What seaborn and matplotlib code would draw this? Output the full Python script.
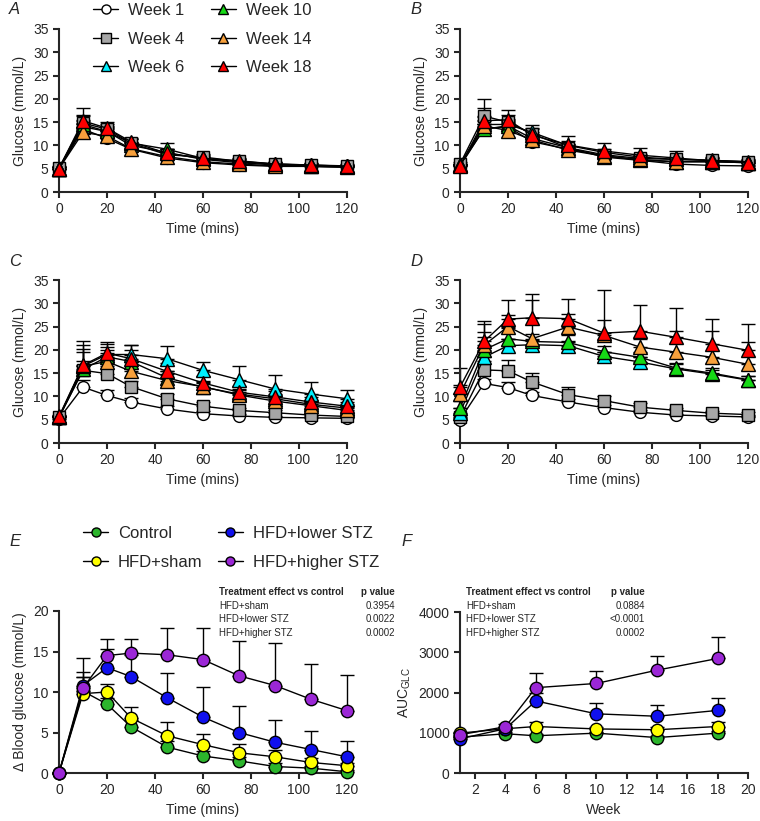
import numpy as np
import seaborn as sns
import matplotlib.pyplot as plt
from matplotlib.lines import Line2D

sns.set_style("ticks")
plt.rcParams["font.family"] = ["Liberation Sans", "DejaVu Sans"]
plt.rcParams["axes.linewidth"] = 1.5
plt.rcParams["xtick.major.width"] = 1.5
plt.rcParams["ytick.major.width"] = 1.5
plt.rcParams["xtick.major.size"] = 4
plt.rcParams["ytick.major.size"] = 4
plt.rcParams["xtick.labelsize"] = 10
plt.rcParams["ytick.labelsize"] = 10
plt.rcParams["axes.labelsize"] = 10

# Data: OGTT time points (mins)
times = [0, 10, 20, 30, 45, 60, 75, 90, 105, 120]
weeks = ["Week 1", "Week 4", "Week 6", "Week 10", "Week 14", "Week 18"]
week_markers = ["o", "s", "^", "^", "^", "^"]
week_colors = ["white", "#a6a6a6", "#00f0ff", "#16d916", "#f7a03c", "#ff0000"]

# Panel A - glucose (mmol/L), one row per week
a_mean = [
    [5.0, 13.5, 11.5, 9.2, 7.3, 6.3, 5.8, 5.5, 5.5, 5.3],
    [5.2, 14.8, 13.5, 10.5, 8.0, 7.5, 6.6, 6.0, 5.8, 5.6],
    [5.0, 14.0, 13.0, 10.0, 8.5, 7.0, 6.3, 5.8, 5.6, 5.5],
    [5.0, 14.5, 13.0, 10.5, 9.2, 7.2, 6.5, 6.0, 5.7, 5.5],
    [5.0, 12.8, 12.0, 9.3, 7.6, 6.5, 6.0, 5.6, 5.5, 5.3],
    [5.0, 15.3, 13.7, 10.8, 8.3, 7.2, 6.7, 6.0, 5.8, 5.5],
]
a_err = [
    [0.3, 1.2, 0.8, 0.6, 0.5, 0.4, 0.3, 0.3, 0.3, 0.3],
    [0.3, 1.8, 1.2, 0.8, 0.7, 0.6, 0.5, 0.4, 0.4, 0.4],
    [0.3, 1.5, 1.0, 0.8, 0.8, 0.6, 0.5, 0.4, 0.4, 0.4],
    [0.3, 1.8, 1.2, 0.8, 1.3, 0.6, 0.5, 0.4, 0.4, 0.4],
    [0.3, 1.2, 1.0, 0.7, 0.6, 0.5, 0.4, 0.3, 0.3, 0.3],
    [0.3, 2.7, 1.3, 0.9, 1.0, 0.7, 0.5, 0.4, 0.4, 0.4],
]

# Panel B
b_mean = [
    [5.5, 13.6, 14.0, 10.8, 9.2, 7.8, 6.8, 6.0, 5.7, 5.6],
    [6.0, 16.3, 15.0, 12.5, 9.5, 8.0, 7.2, 7.0, 6.8, 6.5],
    [5.8, 14.5, 14.5, 12.8, 10.0, 8.5, 7.5, 7.0, 6.8, 6.5],
    [5.8, 13.5, 14.2, 11.5, 9.5, 7.5, 6.8, 6.5, 6.5, 6.3],
    [5.7, 14.2, 13.2, 11.2, 9.0, 7.7, 7.0, 6.5, 6.5, 6.3],
    [5.5, 15.3, 15.5, 12.2, 10.1, 8.8, 7.9, 7.3, 6.7, 6.3],
]
b_err = [
    [0.3, 1.0, 0.8, 0.6, 0.5, 0.4, 0.3, 0.3, 0.3, 0.3],
    [0.4, 3.7, 1.5, 1.0, 0.9, 0.8, 0.6, 0.6, 0.5, 0.5],
    [0.3, 1.5, 1.2, 1.0, 0.9, 0.8, 0.6, 0.5, 0.5, 0.4],
    [0.3, 1.2, 1.0, 0.8, 0.7, 0.6, 0.5, 0.5, 0.4, 0.4],
    [0.3, 1.2, 1.0, 0.8, 0.7, 0.6, 0.5, 0.5, 0.4, 0.4],
    [0.3, 2.8, 2.1, 2.2, 2.0, 1.8, 1.5, 1.6, 0.8, 0.6],
]

# Panel C
c_mean = [
    [5.2, 12.0, 10.2, 8.8, 7.3, 6.3, 5.8, 5.5, 5.4, 5.3],
    [5.5, 15.6, 14.9, 12.1, 9.5, 7.9, 7.0, 6.5, 6.0, 5.7],
    [5.5, 16.5, 19.0, 19.0, 18.1, 15.6, 13.6, 11.6, 10.5, 9.5],
    [5.5, 15.8, 18.5, 17.5, 14.0, 12.0, 10.5, 9.5, 8.3, 7.5],
    [5.5, 16.5, 17.5, 15.4, 13.4, 12.1, 10.3, 9.0, 8.0, 7.0],
    [5.7, 16.7, 19.3, 18.1, 15.4, 12.9, 10.9, 9.9, 8.8, 7.9],
]
c_err = [
    [0.3, 1.5, 1.1, 0.8, 0.6, 0.5, 0.4, 0.3, 0.3, 0.3],
    [0.3, 2.0, 1.7, 1.3, 1.0, 0.8, 0.6, 0.5, 0.4, 0.4],
    [0.4, 5.5, 2.2, 2.1, 2.8, 1.9, 3.0, 2.9, 2.7, 1.9],
    [0.4, 5.3, 2.2, 2.5, 1.5, 1.0, 1.0, 1.0, 0.9, 0.8],
    [0.4, 3.0, 2.5, 2.0, 1.5, 1.2, 1.0, 1.0, 0.9, 0.8],
    [0.4, 3.4, 2.3, 3.0, 1.8, 1.5, 1.3, 1.2, 1.0, 0.9],
]

# Panel D
d_mean = [
    [5.0, 12.8, 11.9, 10.2, 8.8, 7.6, 6.6, 6.0, 5.8, 5.6],
    [5.5, 15.7, 15.5, 13.1, 10.4, 9.1, 7.7, 7.0, 6.4, 6.1],
    [6.5, 18.4, 20.9, 21.1, 20.9, 18.6, 17.4, 15.9, 14.8, 13.5],
    [7.5, 20.0, 22.4, 21.8, 21.6, 19.6, 18.4, 16.1, 15.0, 13.6],
    [10.5, 21.0, 25.0, 22.4, 24.9, 23.1, 20.6, 19.5, 18.4, 16.9],
    [12.0, 21.8, 26.6, 26.9, 26.7, 23.6, 24.0, 22.7, 21.3, 19.9],
]
d_err = [
    [0.3, 1.0, 1.2, 0.8, 0.6, 0.5, 0.4, 0.3, 0.3, 0.3],
    [0.5, 2.0, 2.3, 2.0, 1.6, 1.0, 0.8, 0.6, 0.5, 0.5],
    [1.0, 4.3, 1.5, 1.0, 1.0, 1.0, 1.0, 1.0, 0.8, 0.8],
    [1.5, 3.9, 2.3, 1.5, 1.5, 1.2, 1.2, 1.0, 1.0, 0.8],
    [2.0, 4.5, 2.5, 8.2, 2.7, 3.4, 1.8, 4.5, 5.6, 4.8],
    [4.1, 4.4, 4.2, 5.1, 4.2, 9.3, 5.6, 6.3, 5.4, 5.6],
]

# Panel E - delta blood glucose (mmol/L)
groups = ["Control", "HFD+sham", "HFD+lower STZ", "HFD+higher STZ"]
group_colors = ["#2cb52c", "#ffff00", "#1010ee", "#9b27d6"]
e_mean = [
    [0.0, 10.1, 8.5, 5.7, 3.2, 2.1, 1.5, 0.8, 0.6, 0.15],
    [0.0, 9.8, 10.0, 6.8, 4.6, 3.5, 2.5, 2.0, 1.3, 0.9],
    [0.0, 10.8, 13.0, 11.9, 9.3, 6.9, 5.0, 3.8, 2.9, 2.0],
    [0.0, 10.5, 14.5, 14.8, 14.6, 14.0, 12.0, 10.8, 9.1, 7.7],
]
e_err = [
    [0.0, 1.8, 0.8, 0.8, 0.7, 0.6, 0.5, 0.4, 0.3, 0.2],
    [0.0, 2.1, 1.0, 1.3, 1.7, 1.3, 1.1, 0.8, 0.6, 0.3],
    [0.0, 1.7, 2.3, 2.7, 3.1, 3.7, 3.3, 2.8, 2.3, 1.9],
    [0.0, 3.7, 2.0, 1.7, 3.3, 3.9, 4.3, 5.2, 4.3, 4.4],
]

# Panel F - AUC per week
auc_weeks = [1, 4, 6, 10, 14, 18]
f_mean = [
    [890, 975, 925, 990, 880, 990],
    [990, 1100, 1155, 1095, 1075, 1155],
    [850, 1100, 1790, 1470, 1410, 1555],
    [950, 1150, 2120, 2225, 2555, 2845],
]
f_err = [
    [40, 40, 40, 40, 40, 50],
    [40, 50, 100, 60, 60, 100],
    [40, 50, 200, 260, 290, 315],
    [50, 60, 370, 315, 360, 535],
]

p_groups = ["HFD+sham", "HFD+lower STZ", "HFD+higher STZ"]
e_pvals = ["0.3954", "0.0022", "0.0002"]
f_pvals = ["0.0884", "<0.0001", "0.0002"]

W, H = 760, 821
fig = plt.figure(figsize=(7.6, 8.21), dpi=100)
marker_size = {"o": 8.5, "s": 8.5, "^": 10}


def px_axes(left, top, right, bottom):
    return fig.add_axes([left / W, 1 - bottom / H, (right - left) / W, (bottom - top) / H])


def draw_series(ax, x, means, errs, markers, colors, scale=1.0):
    for m, e, mk, c in zip(means, errs, markers, colors):
        ax.errorbar(x, m, yerr=[np.zeros(len(e)), e], fmt="none", ecolor="black",
                    elinewidth=1, capsize=5, capthick=1, zorder=2, clip_on=False)
        sns.lineplot(x=x, y=m, ax=ax, color="black", linewidth=1, marker=mk,
                     markersize=marker_size[mk] * scale, markerfacecolor=c,
                     markeredgecolor="black", markeredgewidth=1, clip_on=False, zorder=3)


def style_time_axis(ax, ylim, yticks, ylabel):
    ax.set_xlim(0, 120)
    ax.set_xticks(range(0, 121, 20))
    ax.set_ylim(*ylim)
    ax.set_yticks(yticks)
    ax.set_xlabel("Time (mins)")
    ax.set_ylabel(ylabel)
    sns.despine(ax=ax)


panels = [
    ("A", 59, 29, 347, 192, a_mean, a_err),
    ("B", 460, 29, 748, 192, b_mean, b_err),
    ("C", 59, 280, 347, 443, c_mean, c_err),
    ("D", 460, 280, 748, 443, d_mean, d_err),
]
for label, l, t, r, b, means, errs in panels:
    ax = px_axes(l, t, r, b)
    draw_series(ax, times, means, errs, week_markers, week_colors)
    style_time_axis(ax, (0, 35), range(0, 36, 5), "Glucose (mmol/L)")
    fig.text((l - 50) / W, 1 - (t - 19) / H, label, fontsize=12, style="italic",
             ha="left", va="center")

# Week legend
week_handles = [Line2D([0], [0], color="black", lw=1, marker=mk, markersize=6.5,
                       markerfacecolor=c, markeredgecolor="black")
                for mk, c in zip(week_markers, week_colors)]
fig.legend(week_handles, weeks, loc="upper left", bbox_to_anchor=(93 / W, 1 - 3 / H),
           ncol=2, frameon=False, fontsize=12, borderpad=0, borderaxespad=0,
           handlelength=1.5, handletextpad=0.6, columnspacing=1.6, labelspacing=0.82)

# Panel E
ax_e = px_axes(59, 611, 347, 773)
draw_series(ax_e, times, e_mean, e_err, ["o"] * 4, group_colors, 1.05)
style_time_axis(ax_e, (0, 20), range(0, 21, 5), "\u0394 Blood glucose (mmol/L)")
fig.text(9 / W, 1 - 541 / H, "E", fontsize=12, style="italic", ha="left", va="center")

# Panel F
ax_f = px_axes(460, 612, 748, 773)
draw_series(ax_f, auc_weeks, f_mean, f_err, ["o"] * 4, group_colors, 1.05)
ax_f.set_xlim(1, 20)
ax_f.set_xticks(range(2, 21, 2))
ax_f.set_ylim(0, 4000)
ax_f.set_yticks(range(0, 4001, 1000))
ax_f.set_xlabel("Week")
ax_f.set_ylabel("$\\mathregular{AUC_{GLC}}$")
sns.despine(ax=ax_f)
fig.text(401 / W, 1 - 541 / H, "F", fontsize=12, style="italic", ha="left", va="center")

# Group legend
group_handles = [Line2D([0], [0], color="black", lw=1, marker="o", markersize=6.5,
                        markerfacecolor=c, markeredgecolor="black")
                 for c in group_colors]
fig.legend(group_handles, groups, loc="upper left", bbox_to_anchor=(83 / W, 1 - 526 / H),
           ncol=2, frameon=False, fontsize=12, borderpad=0, borderaxespad=0,
           handlelength=1.5, handletextpad=0.6, columnspacing=0.9, labelspacing=0.85)

# p-value tables
for x0, xr, pvals in [(219, 395, e_pvals), (466, 645, f_pvals)]:
    y0 = 592
    fig.text(x0 / W, 1 - y0 / H, "Treatment effect vs control", fontsize=7,
             fontweight="bold", ha="left", va="center")
    fig.text(xr / W, 1 - y0 / H, "p value", fontsize=7, fontweight="bold",
             ha="right", va="center")
    for i, (g, p) in enumerate(zip(p_groups, pvals)):
        yy = y0 + 13.6 * (i + 1)
        fig.text(x0 / W, 1 - yy / H, g, fontsize=7, ha="left", va="center")
        fig.text(xr / W, 1 - yy / H, p, fontsize=7, ha="right", va="center")

fig.savefig("out.png", dpi=100)
